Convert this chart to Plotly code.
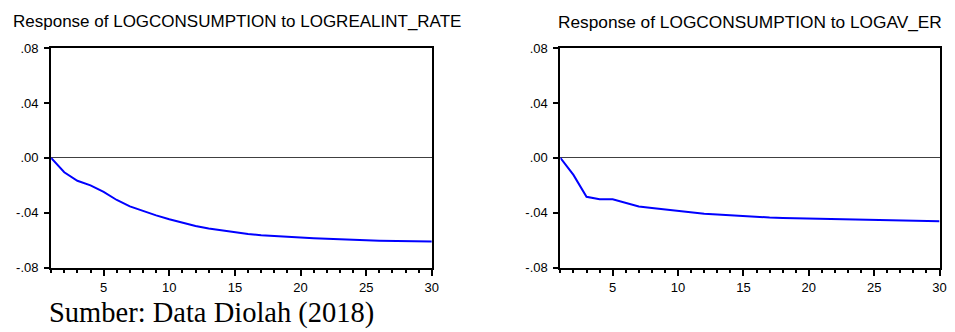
import plotly.graph_objects as go

W, H = 955, 332

periods = list(range(1, 31))
resp_realint = [0.0, -0.0105, -0.0167, -0.0200, -0.0248, -0.0307, -0.0354, -0.0389, -0.0419, -0.0447,
                -0.0473, -0.0496, -0.0515, -0.0529, -0.0543, -0.0555, -0.0564, -0.0571, -0.0576, -0.0580,
                -0.0585, -0.0590, -0.0594, -0.0598, -0.0601, -0.0604, -0.0606, -0.0608, -0.0609, -0.0610]
resp_avr = [0.0, -0.0124, -0.0284, -0.0302, -0.0302, -0.0328, -0.0354, -0.0366, -0.0377, -0.0389,
            -0.0398, -0.0407, -0.0412, -0.0419, -0.0426, -0.0429, -0.0435, -0.0438, -0.0440, -0.0442,
            -0.0445, -0.0450, -0.0452, -0.0453, -0.0456, -0.0456, -0.0457, -0.0459, -0.0461, -0.0462]

y_tickvals = [0.08, 0.04, 0.0, -0.04, -0.08]
y_ticktext = [".08", ".04", ".00", "-.04", "-.08"]
x_tickvals = [5, 10, 15, 20, 25, 30]

titles = ["Response of LOGCONSUMPTION to LOGREALINT_RATE", "Response of LOGCONSUMPTION to LOGAV_ER"]
source_text = "Sumber: Data Diolah (2018)"

SANS = "Arial, Liberation Sans, sans-serif"
SERIF = "Times New Roman, Liberation Serif, serif"

def px_x(p):
    return p / W

def px_y(p):
    return 1 - p / H

dom_left = [px_x(51.5), px_x(435)]
dom_right = [px_x(564.5), px_x(946.5)]
dom_y = [px_y(273), px_y(43)]

fig = go.Figure()
fig.add_trace(go.Scatter(x=periods, y=resp_realint, mode="lines",
                         line=dict(color="#0000FF", width=2), xaxis="x", yaxis="y",
                         showlegend=False))
fig.add_trace(go.Scatter(x=periods, y=resp_avr, mode="lines",
                         line=dict(color="#0000FF", width=2), xaxis="x2", yaxis="y2",
                         showlegend=False))

def xaxis(domain, anchor):
    return dict(domain=domain, anchor=anchor, range=[1, 30], showgrid=False, zeroline=False,
                showline=True, linecolor="black", linewidth=2, mirror=True,
                tickmode="array", tickvals=x_tickvals, ticks="outside", ticklen=6, tickwidth=1.5,
                tickcolor="black", ticklabelstandoff=1,
                minor=dict(tickmode="linear", tick0=1, dtick=1, ticks="outside", ticklen=3,
                           tickwidth=1.5, tickcolor="black", showgrid=False),
                tickfont=dict(family=SANS, size=13, color="black"))

def yaxis(anchor):
    return dict(domain=dom_y, anchor=anchor, range=[-0.08, 0.08], showgrid=False,
                zeroline=True, zerolinecolor="#404040", zerolinewidth=1,
                showline=True, linecolor="black", linewidth=2, mirror=True,
                tickmode="array", tickvals=y_tickvals, ticktext=y_ticktext,
                ticks="outside", ticklen=5, tickwidth=1.5, tickcolor="black",
                ticklabelstandoff=3,
                tickfont=dict(family=SANS, size=13, color="black"))

fig.update_layout(
    width=W, height=H, margin=dict(l=0, r=0, t=0, b=0),
    paper_bgcolor="white", plot_bgcolor="white",
    xaxis=xaxis(dom_left, "y"), yaxis=yaxis("x"),
    xaxis2=xaxis(dom_right, "y2"), yaxis2=yaxis("x2"),
    annotations=[
        dict(text=titles[0], xref="paper", yref="paper", x=px_x(239), y=px_y(15.5),
             xanchor="center", yanchor="middle", showarrow=False,
             font=dict(family=SANS, size=17, color="black")),
        dict(text=titles[1], xref="paper", yref="paper", x=px_x(755.5), y=px_y(15.5),
             xanchor="center", yanchor="middle", showarrow=False,
             font=dict(family=SANS, size=17.3, color="black")),
        dict(text=source_text, xref="paper", yref="paper", x=px_x(48), y=px_y(320),
             xanchor="left", yanchor="middle", showarrow=False, borderpad=0,
             font=dict(family=SERIF, size=28.5, color="black")),
    ],
)

fig.write_html("out.html")
